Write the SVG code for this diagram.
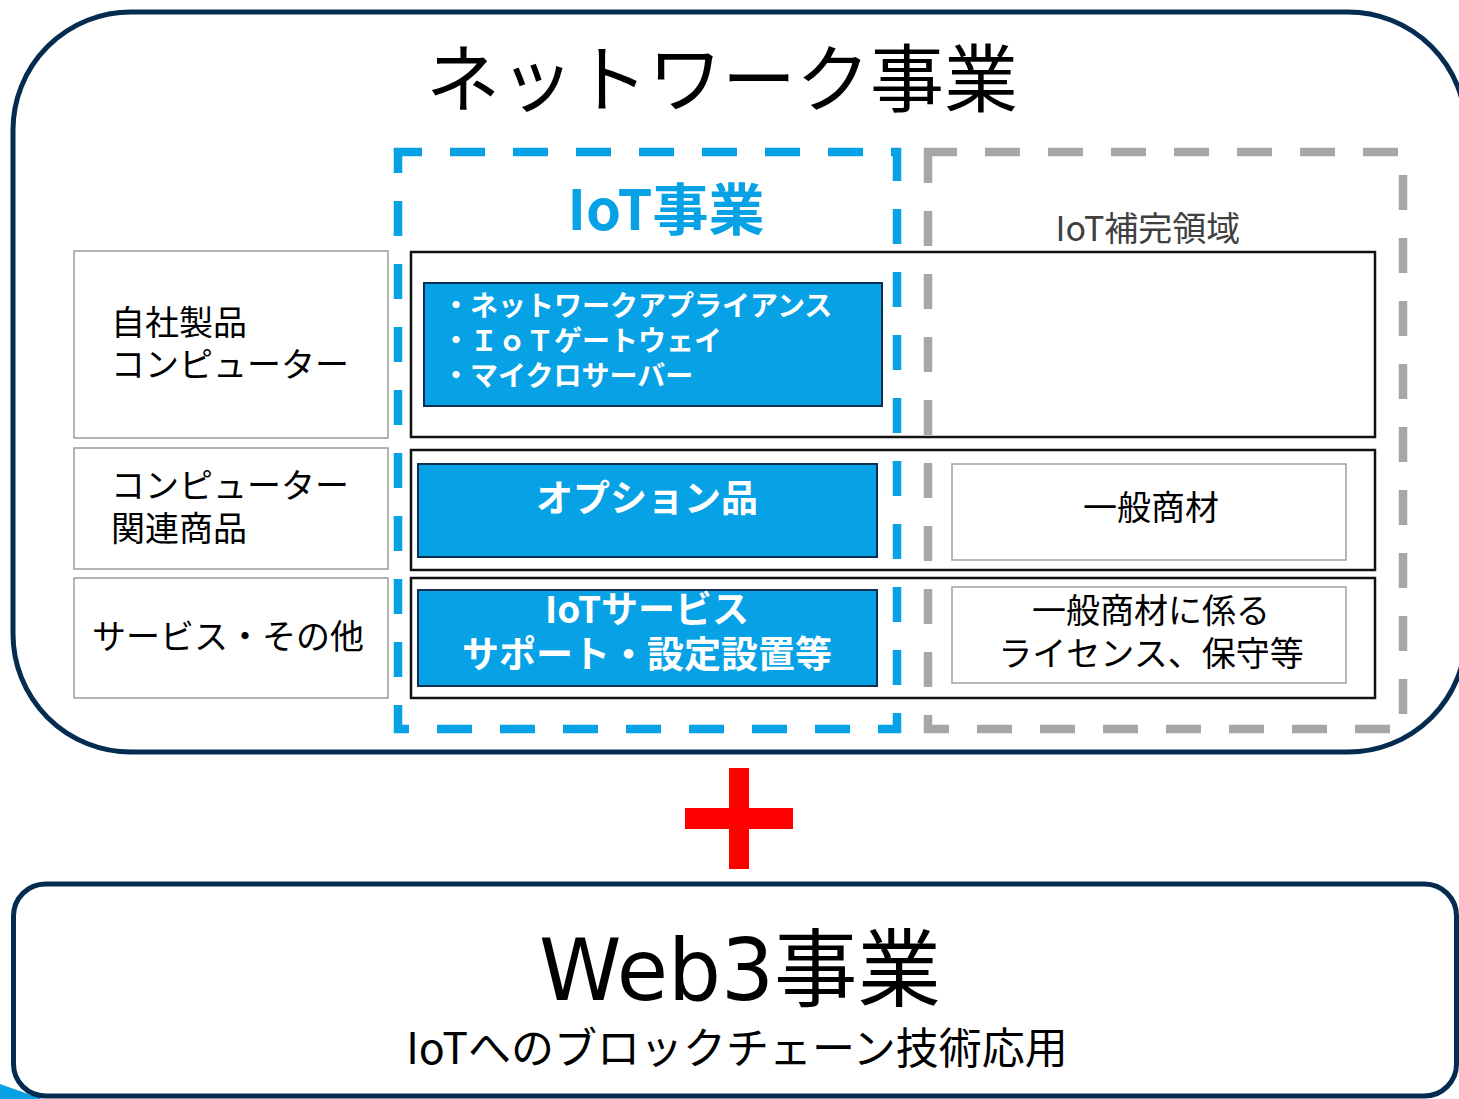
<svg xmlns="http://www.w3.org/2000/svg" width="1459" height="1099" viewBox="0 0 1459 1099">
<style>
  .jp { font-family: "Noto Sans CJK JP", "Noto Sans", sans-serif; }
  .lbl { font-family: "Noto Sans CJK JP", "Noto Sans", sans-serif; font-size: 34px; fill: #000; }
  .wb { font-family: "Noto Sans CJK JP", "Noto Sans", sans-serif; font-weight: bold; fill: #fff; }
  .outer { fill: #fff; stroke: #032c50; stroke-width: 5; }
  .leftbox { fill: #fff; stroke: #9a9a9a; stroke-width: 1.5; }
  .rowbox { fill: none; stroke: #111; stroke-width: 2.5; }
  .bluebox { fill: #07a1e6; stroke: #0f2f52; stroke-width: 2; }
  .greybox { fill: #fff; stroke: #a0a0a0; stroke-width: 1.5; }
</style>
<rect width="1459" height="1099" fill="#fff"/>

<g id="network-frame">
  <rect class="outer" x="13" y="12" width="1453" height="740" rx="118" ry="118"/>
  <text class="jp" x="722" y="106" font-size="74" text-anchor="middle" fill="#000">ネットワーク事業</text>
</g>

<g id="left-own-products">
  <rect class="leftbox" x="74" y="251" width="314" height="187"/>
  <text class="lbl" x="111" y="335">自社製品</text>
  <text class="lbl" x="111" y="377">コンピューター</text>
</g>
<g id="left-related">
  <rect class="leftbox" x="74" y="448" width="314" height="121"/>
  <text class="lbl" x="111" y="498">コンピューター</text>
  <text class="lbl" x="111" y="541">関連商品</text>
</g>
<g id="left-service">
  <rect class="leftbox" x="74" y="578" width="314" height="120"/>
  <text class="lbl" x="92" y="649">サービス・その他</text>
</g>

<g id="row1">
  <rect class="rowbox" x="411" y="252" width="964" height="185"/>
</g>
<g id="row2">
  <rect class="rowbox" x="411" y="450" width="964" height="120"/>
</g>
<g id="row3">
  <rect class="rowbox" x="411" y="578" width="964" height="120"/>
</g>

<g id="iot-products">
  <rect class="bluebox" x="424" y="283" width="458" height="123"/>
  <text class="wb" x="442" y="316" font-size="28">・ネットワークアプライアンス</text>
  <text class="wb" x="442" y="351" font-size="28">・ＩｏＴゲートウェイ</text>
  <text class="wb" x="442" y="386" font-size="28">・マイクロサーバー</text>
</g>
<g id="iot-options">
  <rect class="bluebox" x="418" y="464" width="459" height="93"/>
  <text class="wb" x="647" y="512" font-size="37" text-anchor="middle">オプション品</text>
</g>
<g id="iot-services">
  <rect class="bluebox" x="418" y="590" width="459" height="96"/>
  <text class="wb" x="647" y="623" font-size="37" text-anchor="middle">IoTサービス</text>
  <text class="wb" x="647" y="668" font-size="37" text-anchor="middle">サポート・設定設置等</text>
</g>

<g id="general-goods">
  <rect class="greybox" x="952" y="464" width="394" height="96"/>
  <text class="lbl" x="1151" y="520" text-anchor="middle">一般商材</text>
</g>
<g id="general-license">
  <rect class="greybox" x="952" y="587" width="394" height="96"/>
  <text class="lbl" x="1151" y="623" text-anchor="middle">一般商材に係る</text>
  <text class="lbl" x="1151" y="666" text-anchor="middle">ライセンス、保守等</text>
</g>

<g id="iot-business">
  <rect x="398" y="152" width="499" height="577" fill="none" stroke="#07a1e6" stroke-width="8.5" stroke-dasharray="35 28" stroke-dashoffset="11"/>
  <text class="jp" x="666" y="230" font-size="56" font-weight="bold" text-anchor="middle" fill="#07a1e6">IoT事業</text>
</g>
<g id="iot-complement">
  <rect x="928" y="152" width="475" height="577" fill="none" stroke="#a6a6a6" stroke-width="8.5" stroke-dasharray="35 28" stroke-dashoffset="6"/>
  <text class="jp" x="1148" y="241" font-size="34" text-anchor="middle" fill="#404040">IoT補完領域</text>
</g>

<g id="connectors">
  <g id="plus" fill="#ff0000">
    <rect x="729" y="768" width="20" height="101"/>
    <rect x="685" y="808" width="108" height="21"/>
  </g>
</g>

<polygon points="0,1084 42,1099 0,1099" fill="#07a1e6"/>
<g id="web3">
  <rect class="outer" x="13.5" y="884" width="1443" height="212" rx="32" ry="32"/>
  <text x="740" y="1000" font-family="DejaVu Sans, Noto Sans CJK JP, sans-serif" font-size="85" text-anchor="middle" fill="#000" textLength="402" lengthAdjust="spacingAndGlyphs">Web3事業</text>
  <text class="jp" x="737" y="1064" font-size="43" text-anchor="middle" fill="#000">IoTへのブロックチェーン技術応用</text>
</g>
</svg>
